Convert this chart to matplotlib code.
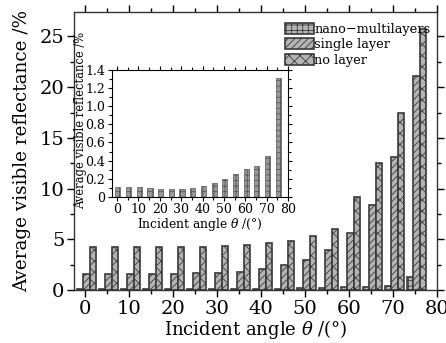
import matplotlib
matplotlib.use("Agg")
from matplotlib import pyplot as plt
from matplotlib.ticker import MultipleLocator
import numpy as np

plt.rcParams['font.family'] = ['DejaVu Serif']
plt.rcParams['mathtext.fontset'] = 'dejavuserif'
plt.rcParams['hatch.linewidth'] = 0.6
plt.rcParams['hatch.color'] = '#404040'

angles = [0, 5, 10, 15, 20, 25, 30, 35, 40, 45, 50, 55, 60, 65, 70, 75]
nano = [0.11, 0.11, 0.105, 0.1, 0.09, 0.085, 0.085, 0.095, 0.115, 0.15,
        0.2, 0.255, 0.305, 0.34, 0.45, 1.31]
single = [1.64, 1.64, 1.64, 1.64, 1.64, 1.66, 1.7, 1.8, 2.1, 2.45,
          3.0, 4.0, 5.6, 8.4, 13.1, 21.1]
nolayer = [4.27, 4.27, 4.27, 4.27, 4.27, 4.3, 4.35, 4.45, 4.6, 4.86,
           5.3, 6.07, 9.2, 12.5, 17.45, 25.7]

face = '#b4b4b4'
edge = '#3a3a3a'
w = 1.45

fig = plt.figure(figsize=(4.46, 3.43), dpi=100)
ax = fig.add_axes([0.166, 0.154, 0.814, 0.811])

x = np.array(angles)
ax.bar(x - 1.1, nano, w, color=face, edgecolor=edge, hatch='+++', lw=1.2, label='nano\u2212multilayers')
ax.bar(x + 0.35, single, w, color=face, edgecolor=edge, hatch='/////', lw=1.2, label='single layer')
ax.bar(x + 1.8, nolayer, w, color=face, edgecolor=edge, hatch='xxx', lw=1.2, label='no layer')

ax.set_xlim(-2.5, 80)
ax.set_ylim(0, 27.4)
ax.xaxis.set_major_locator(MultipleLocator(10))
ax.xaxis.set_minor_locator(MultipleLocator(5))
ax.yaxis.set_major_locator(MultipleLocator(5))
ax.yaxis.set_minor_locator(MultipleLocator(2.5))
ax.tick_params(which='both', direction='out', top=True, right=True, labelsize=14, width=1)
ax.tick_params(which='major', length=5, pad=2)
ax.tick_params(which='minor', length=3)
for s in ax.spines.values():
    s.set_linewidth(1)
    s.set_color('#333333')
ax.set_xlabel('Incident angle $\\theta$ /(\u00b0)', fontsize=13, labelpad=0)
ax.set_ylabel('Average visible reflectance /%', fontsize=13.2, labelpad=6)
ax.legend(loc='upper right', fontsize=9.3, frameon=False, handlelength=2.2,
          handleheight=0.95, handletextpad=0.05, labelspacing=0.2,
          borderaxespad=0.1, bbox_to_anchor=(1.0, 0.985))

ins = fig.add_axes([0.25, 0.426, 0.396, 0.37])
ins.bar(x + 0.4, nano, 2.4, color='#9a9a9a', edgecolor='#555555', hatch='+++', lw=0.5)
ins.set_xlim(-2.6, 80)
ins.set_ylim(0, 1.4)
ins.xaxis.set_major_locator(MultipleLocator(10))
ins.xaxis.set_minor_locator(MultipleLocator(5))
ins.yaxis.set_major_locator(MultipleLocator(0.2))
ins.yaxis.set_minor_locator(MultipleLocator(0.1))
ins.yaxis.set_major_formatter(plt.FuncFormatter(lambda v, p: '0' if v == 0 else '%.1f' % v))
ins.tick_params(which='both', direction='out', top=True, right=True, labelsize=9, width=0.8)
ins.tick_params(which='major', length=3, pad=1.5)
ins.tick_params(which='minor', length=2)
ins.set_xlabel('Incident angle $\\theta$ /(\u00b0)', fontsize=8.8, labelpad=0)
ins.set_ylabel('Average visible reflectance /%', fontsize=8.3, labelpad=-1)
ins.yaxis.set_label_coords(-0.14, 0.6)

fig.savefig('out.png', dpi=100)
